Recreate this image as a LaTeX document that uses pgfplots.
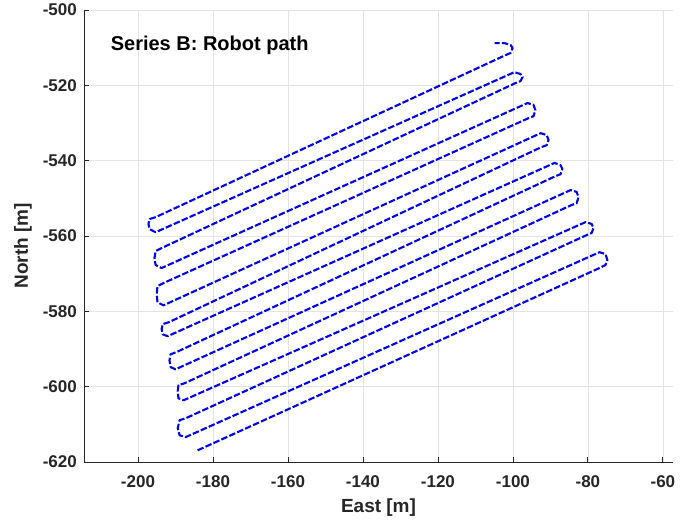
\documentclass[border=0pt]{standalone}
\usepackage{fontspec}
\setmainfont{Liberation Sans}
\usepackage{pgfplots}
\pgfplotsset{compat=1.18}

\definecolor{axgray}{HTML}{262626}
\definecolor{gridgray}{HTML}{E3E3E3}
\definecolor{pathblue}{RGB}{0,0,230}

\begin{document}
\begin{tikzpicture}
\useasboundingbox (-84pt,-61pt) rectangle (610pt,462pt);
\begin{axis}[
  scale only axis,
  width=589pt, height=452pt,
  xmin=-214.4, xmax=-57.3,
  ymin=-620, ymax=-500,
  axis x line*=bottom, axis y line*=left,
  axis line style={axgray, line width=0.8pt},
  xtick={-200,-180,...,-60},
  ytick={-620,-600,...,-500},
  tick align=inside,
  major tick length=5pt,
  tick style={axgray, line width=0.8pt},
  grid=major,
  major grid style={gridgray, line width=0.7pt},
  /pgf/number format/assume math mode=true,
  ticklabel style={font=\bfseries\fontsize{17}{20}\selectfont, text=axgray, inner sep=0pt},
  xticklabel style={anchor=north, yshift=-13pt},
  yticklabel style={anchor=east, xshift=-7pt},
  xlabel={East [m]},
  ylabel={North [m]},
  label style={font=\bfseries\fontsize{19}{22}\selectfont, text=axgray, inner sep=0pt},
  xlabel style={at={(axis description cs:0.5,-0.1018)}, anchor=center},
  ylabel style={at={(axis description cs:-0.1036,0.478)}, anchor=center},
]

% lawnmower survey track, start at the bottom-left end
\addplot[pathblue, line width=2.1pt, dash pattern=on 6.5pt off 2.2pt, line join=round]
  coordinates {
  (-184.1,-616.9)
  (-76.9,-568.5) (-75.3,-567.7) (-74.8,-566.4) (-75.3,-564.8) (-76.9,-564.3)
  (-187.3,-613.4) (-188.9,-612.9) (-189.4,-611.0) (-188.9,-608.9) (-187.3,-608.4)
  (-80.4,-559.8) (-79.0,-559.2) (-78.5,-557.9) (-79.0,-556.8) (-80.6,-556.3)
  (-187.8,-603.6) (-189.2,-603.1) (-189.4,-601.2) (-189.2,-599.6) (-187.6,-599.1)
  (-84.4,-551.8) (-83.0,-551.3) (-82.5,-549.7) (-83.0,-548.3) (-84.6,-547.8)
  (-190.0,-595.4) (-191.3,-594.8) (-191.6,-593.0) (-191.3,-591.4) (-189.7,-590.8)
  (-88.6,-544.1) (-87.3,-543.6) (-86.8,-542.2) (-87.3,-541.2) (-88.9,-540.6)
  (-192.1,-586.6) (-193.4,-586.1) (-193.7,-584.7) (-193.4,-583.4) (-191.8,-582.9)
  (-92.4,-536.4) (-91.0,-535.9) (-90.5,-534.5) (-91.0,-533.2) (-92.6,-532.7)
  (-193.2,-578.4) (-194.8,-577.6) (-195.0,-575.4) (-194.8,-573.3) (-193.2,-572.5)
  (-95.8,-528.7) (-94.5,-528.2) (-94.0,-526.6) (-94.5,-525.2) (-96.1,-524.7)
  (-193.7,-568.5) (-195.3,-567.7) (-195.6,-565.9) (-195.3,-564.0) (-193.7,-563.2)
  (-99.3,-519.4) (-98.0,-518.9) (-97.4,-517.8) (-98.0,-517.0) (-99.6,-516.5)
  (-195.3,-559.0) (-196.9,-558.2) (-197.2,-556.8) (-196.9,-555.5) (-195.3,-555.0)
  (-102.0,-512.0) (-100.6,-511.4) (-100.1,-510.1) (-100.6,-509.3) (-102.2,-508.8)
  (-104.9,-508.8)
  };

\node[anchor=west, inner sep=0pt, font=\bfseries\fontsize{20}{24}\selectfont, text=black]
  at (axis cs:-207.3,-509.3) {Series B: Robot path};
\end{axis}
\end{tikzpicture}
\end{document}
